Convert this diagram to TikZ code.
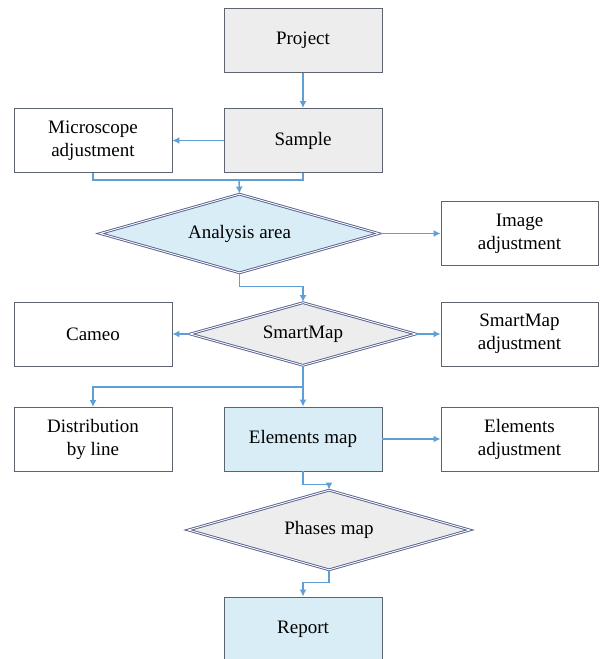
\documentclass[tikz,border=0pt]{standalone}
\usepackage{fontspec}
\setmainfont{Liberation Serif}
\usetikzlibrary{shapes.geometric,arrows.meta}
\definecolor{grayfill}{HTML}{EDEDED}
\definecolor{bluefill}{HTML}{D8EDF6}
\definecolor{boxline}{HTML}{5E6372}
\definecolor{dialine}{HTML}{555E8C}
\definecolor{arrowc}{HTML}{5F9FD6}
\tikzset{
  box/.style={rectangle, draw=boxline, line width=0.9pt, minimum width=158pt, minimum height=64pt,
    align=center, inner sep=0pt, font=\fontsize{19}{23}\selectfont},
  grybox/.style={box, fill=grayfill},
  blubox/.style={box, fill=bluefill},
  whtbox/.style={box, fill=white},
  dia/.style={diamond, draw=dialine, line width=0.9pt, double=white, double distance=0.9pt,
    aspect=3.5, inner sep=0pt, align=center, font=\fontsize{19}{23}\selectfont},
  conn/.style={draw=arrowc, line width=1.4pt},
  arr/.style={conn, -{Latex[length=7pt,width=7pt]}},
}
\begin{document}
\begin{tikzpicture}[x=1pt,y=-1pt]
\useasboundingbox (0,0) rectangle (600,659);
\clip (0,0) rectangle (600,659);
\fill[white] (0,0) rectangle (600,659);
% nodes
\node[grybox] (proj) at (303,40.5) {Project};
\node[grybox] (samp) at (303,140.5) {Sample};
\node[whtbox] (micro) at (93,140.5) {Microscope\\adjustment};
\node[dia, fill=bluefill, minimum width=279pt, minimum height=79pt] (ana) at (239.5,233.5) {Analysis area};
\node[whtbox, minimum width=157pt] (img) at (519.5,233.5) {Image\\adjustment};
\node[dia, fill=grayfill, minimum width=226pt, minimum height=63pt] (smart) at (303,334) {SmartMap};
\node[whtbox] (cameo) at (93,334) {Cameo};
\node[whtbox, minimum width=157pt] (smadj) at (519.5,334) {SmartMap\\adjustment};
\node[whtbox] (dist) at (93,439.5) {Distribution\\by line};
\node[blubox] (elem) at (303,439) {Elements map};
\node[whtbox, minimum width=157pt] (eladj) at (519.5,439) {Elements\\adjustment};
\node[dia, fill=grayfill, minimum width=282pt, minimum height=80pt] (phase) at (329,530) {Phases map};
\node[blubox] (rep) at (303,629) {Report};
% helper coordinates
\coordinate (m1) at (239,180);
\coordinate (m3) at (303,387);
% connectors
\draw[arr] (proj) -- (samp);
\draw[arr] (samp.west) -- (micro.east);
\draw[conn] (micro.south) |- (m1);
\draw[conn] (samp.south) |- (m1);
\draw[arr] (m1) -- (ana.north);
\draw[arr] (ana.east) -- (img.west);
\draw[arr] (ana.south) -- ++(0,13) -| (smart.north);
\draw[arr] (smart.west) -- (cameo.east);
\draw[arr] (smart.east) -- (smadj.west);
\draw[arr] (smart.south) -- (elem.north);
\draw[arr] (m3) -| (dist.north);
\draw[arr] (elem.east) -- (eladj.west);
\draw[arr] (elem.south) -- ++(0,13) -| (phase.north);
\draw[arr] (phase.south) -- ++(0,12) -| (rep.north);
\end{tikzpicture}
\end{document}
